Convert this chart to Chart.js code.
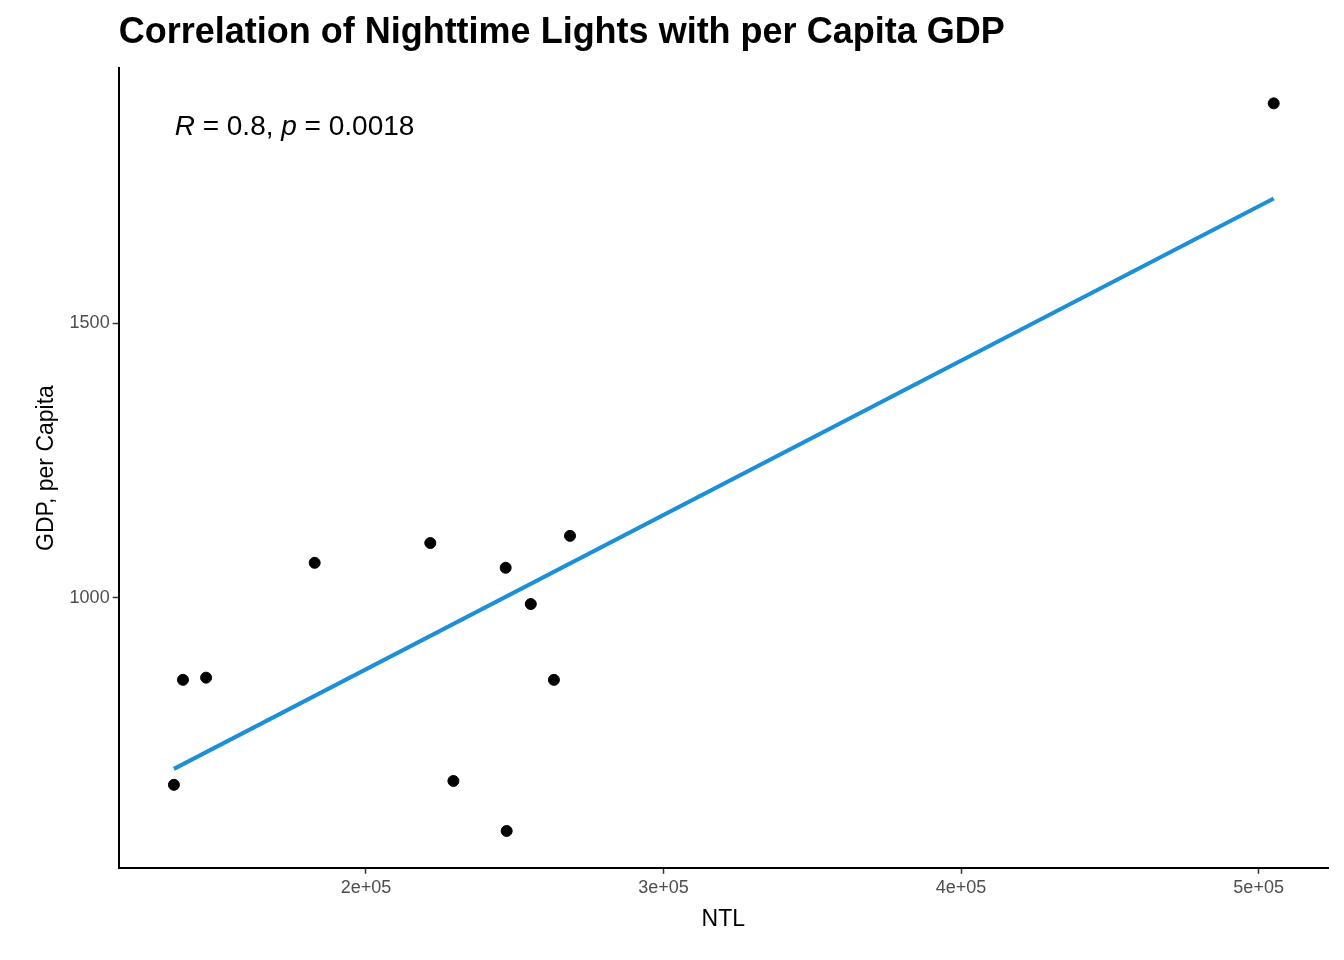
<!DOCTYPE html>
<html>
<head>
<meta charset="utf-8">
<script src="https://cdn.jsdelivr.net/npm/chart.js@4"></script>
<style>
  body { margin: 0; background: #fff; }
  #wrap { width: 1344px; height: 960px; }
</style>
</head>
<body>
<div id="wrap"><canvas id="c"></canvas></div>
<script>
// data
const ntl = [135473, 138514, 146284, 182770, 221622, 229392, 246959, 247297, 255405, 263176, 268581, 505068];
const gdp = [660, 851, 855, 1064, 1100, 667, 1055, 576, 989, 851, 1113, 1900];
const fitX = [135473, 505068];
const fitY = [689, 1727];
const xTicks = [200000, 300000, 400000, 500000];
const xTickLabels = ['2e+05', '3e+05', '4e+05', '5e+05'];
const yTicks = [1000, 1500];
const titleText = 'Correlation of Nighttime Lights with per Capita GDP';

const font = 'Liberation Sans, Arial, sans-serif';

// title aligned with the panel, plus R / p annotation
const annot = {
  id: 'annot',
  afterDraw(chart) {
    const ctx = chart.ctx;
    const a = chart.chartArea;
    ctx.save();
    ctx.fillStyle = '#000';
    ctx.textBaseline = 'middle';
    ctx.font = 'bold 36px ' + font;
    ctx.fillText(titleText, a.left, 33);
    let x = a.left + 56, y = a.top + 59;
    const parts = [['R', true], [' = 0.8, ', false], ['p', true], [' = 0.0018', false]];
    parts.forEach(([t, it]) => {
      ctx.font = (it ? 'italic ' : '') + '28px ' + font;
      ctx.fillText(t, x, y);
      x += ctx.measureText(t).width;
    });
    ctx.restore();
  }
};

new Chart(document.getElementById('c'), {
  type: 'scatter',
  data: {
    datasets: [
      {
        data: ntl.map((v, i) => ({ x: v, y: gdp[i] })),
        backgroundColor: '#000',
        borderColor: '#000',
        pointRadius: 5.5,
        order: 1
      },
      {
        type: 'line',
        data: fitX.map((v, i) => ({ x: v, y: fitY[i] })),
        borderColor: '#1c8fd6',
        borderWidth: 4,
        pointRadius: 0,
        order: 2
      }
    ]
  },
  options: {
    responsive: true,
    maintainAspectRatio: false,
    animation: false,
    layout: { padding: { left: 29, right: 16, top: 0, bottom: 23 } },
    plugins: {
      legend: { display: false },
      tooltip: { enabled: false },
      title: {
        display: true,
        text: ' ',
        color: 'rgba(0,0,0,0)',
        font: { family: font, size: 36, weight: 'bold' },
        padding: { top: 12, bottom: 13 }
      }
    },
    scales: {
      x: {
        type: 'linear',
        min: 116892,
        max: 523311,
        grid: { display: true, drawOnChartArea: false, drawTicks: true, tickLength: 6, tickColor: '#333', tickWidth: 1.5 },
        border: { display: true, color: '#000', width: 2 },
        afterBuildTicks: s => { s.ticks = xTicks.map(v => ({ value: v })); },
        ticks: {
          color: '#4d4d4d',
          font: { family: font, size: 18 },
          callback: (v) => xTickLabels[xTicks.indexOf(v)]
        },
        title: { display: true, text: 'NTL', color: '#000', font: { family: font, size: 23 }, padding: { top: 4 } }
      },
      y: {
        min: 509,
        max: 1964,
        grid: { display: true, drawOnChartArea: false, drawTicks: true, tickLength: 6, tickColor: '#333', tickWidth: 1.5 },
        border: { display: true, color: '#000', width: 2 },
        afterBuildTicks: s => { s.ticks = yTicks.map(v => ({ value: v })); },
        ticks: { color: '#4d4d4d', font: { family: font, size: 18 }, callback: v => String(v) },
        title: { display: true, text: 'GDP, per Capita', color: '#000', font: { family: font, size: 23 }, padding: { bottom: 6 } }
      }
    }
  },
  plugins: [annot]
});
</script>
</body>
</html>
